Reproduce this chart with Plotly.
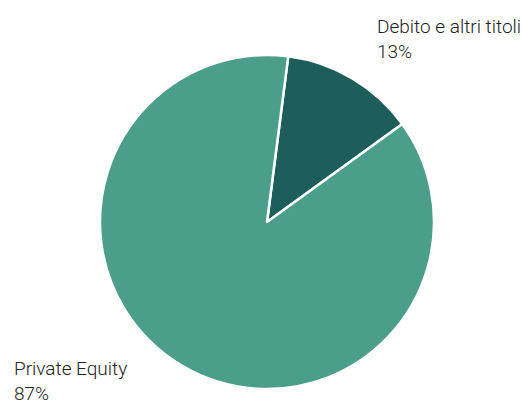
import plotly.graph_objects as go

labels = ["Debito e altri titoli", "Private Equity"]
values = [13, 87]
pct_labels = ["13%", "87%"]
colors = ["#1d5e5b", "#4a9e8a"]

W, H = 522, 405
fig = go.Figure(go.Pie(
    labels=labels, values=values, sort=False, direction="clockwise",
    rotation=7.3, textinfo="none", hoverinfo="label+percent",
    marker=dict(colors=colors, line=dict(color="white", width=2.5)),
    domain=dict(x=[100 / W, 434 / W], y=[1 - 389 / H, 1 - 55 / H]),
    showlegend=False,
))

font = dict(family="Roboto", size=19, color="#222222", weight=300)
fig.add_annotation(x=523 / W, y=1 - 13 / H, xref="paper", yref="paper",
                   xanchor="right", yanchor="top", align="left", showarrow=False,
                   text=f"{labels[0]}<br>{pct_labels[0]}", font=font)
fig.add_annotation(x=12 / W, y=1 - 355 / H, xref="paper", yref="paper",
                   xanchor="left", yanchor="top", align="left", showarrow=False,
                   text=f"{labels[1]}<br>{pct_labels[1]}", font=font)

fig.update_layout(width=W, height=H, margin=dict(l=0, r=0, t=0, b=0),
                  paper_bgcolor="white", plot_bgcolor="white")
fig.write_html("out.html", config={"displayModeBar": False},
               post_script="document.body.style.margin='0';document.body.style.overflow='hidden';")
